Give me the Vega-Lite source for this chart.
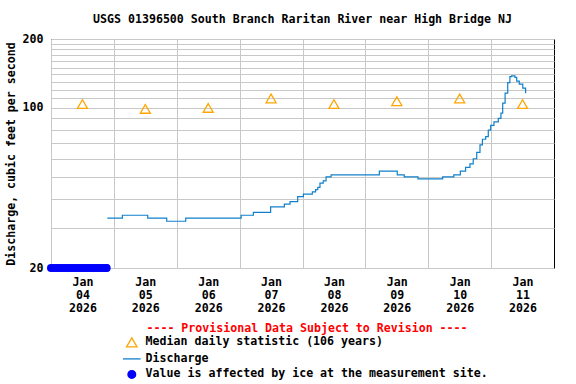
{
  "$schema": "https://vega.github.io/schema/vega-lite/v6.json",
  "width": 503,
  "height": 229,
  "padding": {"left": 5, "top": 14, "right": 5, "bottom": 2},
  "background": "white",
  "title": {
    "text": "USGS 01396500 South Branch Raritan River near High Bridge NJ",
    "font": "DejaVu Sans Mono",
    "fontSize": 11.6,
    "fontWeight": "bold",
    "color": "black",
    "anchor": "middle",
    "offset": 7
  },
  "config": {
    "view": {"stroke": "black", "strokeWidth": 1},
    "font": "DejaVu Sans Mono",
    "axis": {
      "labelFont": "DejaVu Sans Mono",
      "labelFontWeight": "bold",
      "labelFontSize": 11.6,
      "labelColor": "black",
      "titleFont": "DejaVu Sans Mono",
      "titleFontWeight": "bold",
      "titleFontSize": 11.6,
      "titleColor": "black",
      "gridColor": "#c8c8c8",
      "gridOpacity": 1,
      "gridWidth": 1,
      "domain": false,
      "ticks": false,
      "labelFlush": false,
      "labelOverlap": false
    }
  },
  "datasets": {
    "discharge": [
      {"t": "2026-01-04T21:30:00Z", "q": 33, "s": "Discharge"},
      {"t": "2026-01-05T03:15:00Z", "q": 34, "s": "Discharge"},
      {"t": "2026-01-05T12:55:00Z", "q": 33, "s": "Discharge"},
      {"t": "2026-01-05T20:10:00Z", "q": 32, "s": "Discharge"},
      {"t": "2026-01-06T03:25:00Z", "q": 33, "s": "Discharge"},
      {"t": "2026-01-07T00:35:00Z", "q": 34, "s": "Discharge"},
      {"t": "2026-01-07T05:15:00Z", "q": 35, "s": "Discharge"},
      {"t": "2026-01-07T11:50:00Z", "q": 37, "s": "Discharge"},
      {"t": "2026-01-07T17:05:00Z", "q": 38, "s": "Discharge"},
      {"t": "2026-01-07T19:15:00Z", "q": 39, "s": "Discharge"},
      {"t": "2026-01-07T22:10:00Z", "q": 41, "s": "Discharge"},
      {"t": "2026-01-08T00:20:00Z", "q": 42, "s": "Discharge"},
      {"t": "2026-01-08T03:45:00Z", "q": 43, "s": "Discharge"},
      {"t": "2026-01-08T05:00:00Z", "q": 44, "s": "Discharge"},
      {"t": "2026-01-08T05:50:00Z", "q": 45, "s": "Discharge"},
      {"t": "2026-01-08T06:40:00Z", "q": 47, "s": "Discharge"},
      {"t": "2026-01-08T07:55:00Z", "q": 48, "s": "Discharge"},
      {"t": "2026-01-08T09:00:00Z", "q": 50, "s": "Discharge"},
      {"t": "2026-01-08T10:55:00Z", "q": 51, "s": "Discharge"},
      {"t": "2026-01-09T05:20:00Z", "q": 53, "s": "Discharge"},
      {"t": "2026-01-09T12:10:00Z", "q": 51, "s": "Discharge"},
      {"t": "2026-01-09T14:50:00Z", "q": 50, "s": "Discharge"},
      {"t": "2026-01-09T20:05:00Z", "q": 49, "s": "Discharge"},
      {"t": "2026-01-10T05:30:00Z", "q": 50, "s": "Discharge"},
      {"t": "2026-01-10T09:45:00Z", "q": 51, "s": "Discharge"},
      {"t": "2026-01-10T12:15:00Z", "q": 53, "s": "Discharge"},
      {"t": "2026-01-10T14:15:00Z", "q": 55, "s": "Discharge"},
      {"t": "2026-01-10T15:55:00Z", "q": 57, "s": "Discharge"},
      {"t": "2026-01-10T17:10:00Z", "q": 60, "s": "Discharge"},
      {"t": "2026-01-10T18:30:00Z", "q": 64, "s": "Discharge"},
      {"t": "2026-01-10T19:45:00Z", "q": 69, "s": "Discharge"},
      {"t": "2026-01-10T20:40:00Z", "q": 73, "s": "Discharge"},
      {"t": "2026-01-10T21:55:00Z", "q": 75, "s": "Discharge"},
      {"t": "2026-01-10T22:55:00Z", "q": 80, "s": "Discharge"},
      {"t": "2026-01-10T23:50:00Z", "q": 84, "s": "Discharge"},
      {"t": "2026-01-11T01:05:00Z", "q": 87, "s": "Discharge"},
      {"t": "2026-01-11T02:45:00Z", "q": 90, "s": "Discharge"},
      {"t": "2026-01-11T03:45:00Z", "q": 95, "s": "Discharge"},
      {"t": "2026-01-11T04:25:00Z", "q": 105, "s": "Discharge"},
      {"t": "2026-01-11T05:20:00Z", "q": 116, "s": "Discharge"},
      {"t": "2026-01-11T06:20:00Z", "q": 129, "s": "Discharge"},
      {"t": "2026-01-11T07:10:00Z", "q": 137, "s": "Discharge"},
      {"t": "2026-01-11T07:50:00Z", "q": 138, "s": "Discharge"},
      {"t": "2026-01-11T09:05:00Z", "q": 136, "s": "Discharge"},
      {"t": "2026-01-11T09:45:00Z", "q": 131, "s": "Discharge"},
      {"t": "2026-01-11T10:45:00Z", "q": 127, "s": "Discharge"},
      {"t": "2026-01-11T12:05:00Z", "q": 122, "s": "Discharge"},
      {"t": "2026-01-11T13:10:00Z", "q": 116, "s": "Discharge"}
    ],
    "median": [
      {"t": "2026-01-04T12:00:00Z", "q": 104, "s": "Median daily statistic (106 years)"},
      {"t": "2026-01-05T12:00:00Z", "q": 99, "s": "Median daily statistic (106 years)"},
      {"t": "2026-01-06T12:00:00Z", "q": 100, "s": "Median daily statistic (106 years)"},
      {"t": "2026-01-07T12:00:00Z", "q": 110, "s": "Median daily statistic (106 years)"},
      {"t": "2026-01-08T12:00:00Z", "q": 104, "s": "Median daily statistic (106 years)"},
      {"t": "2026-01-09T12:00:00Z", "q": 107, "s": "Median daily statistic (106 years)"},
      {"t": "2026-01-10T12:00:00Z", "q": 110, "s": "Median daily statistic (106 years)"},
      {"t": "2026-01-11T12:00:00Z", "q": 104, "s": "Median daily statistic (106 years)"}
    ],
    "ice": [
      {"t": "2026-01-04T00:00:00Z", "q": 20, "s": "Value is affected by ice at the measurement site."},
      {"t": "2026-01-04T01:00:00Z", "q": 20, "s": "Value is affected by ice at the measurement site."},
      {"t": "2026-01-04T02:00:00Z", "q": 20, "s": "Value is affected by ice at the measurement site."},
      {"t": "2026-01-04T03:00:00Z", "q": 20, "s": "Value is affected by ice at the measurement site."},
      {"t": "2026-01-04T04:00:00Z", "q": 20, "s": "Value is affected by ice at the measurement site."},
      {"t": "2026-01-04T05:00:00Z", "q": 20, "s": "Value is affected by ice at the measurement site."},
      {"t": "2026-01-04T06:00:00Z", "q": 20, "s": "Value is affected by ice at the measurement site."},
      {"t": "2026-01-04T07:00:00Z", "q": 20, "s": "Value is affected by ice at the measurement site."},
      {"t": "2026-01-04T08:00:00Z", "q": 20, "s": "Value is affected by ice at the measurement site."},
      {"t": "2026-01-04T09:00:00Z", "q": 20, "s": "Value is affected by ice at the measurement site."},
      {"t": "2026-01-04T10:00:00Z", "q": 20, "s": "Value is affected by ice at the measurement site."},
      {"t": "2026-01-04T11:00:00Z", "q": 20, "s": "Value is affected by ice at the measurement site."},
      {"t": "2026-01-04T12:00:00Z", "q": 20, "s": "Value is affected by ice at the measurement site."},
      {"t": "2026-01-04T13:00:00Z", "q": 20, "s": "Value is affected by ice at the measurement site."},
      {"t": "2026-01-04T14:00:00Z", "q": 20, "s": "Value is affected by ice at the measurement site."},
      {"t": "2026-01-04T15:00:00Z", "q": 20, "s": "Value is affected by ice at the measurement site."},
      {"t": "2026-01-04T16:00:00Z", "q": 20, "s": "Value is affected by ice at the measurement site."},
      {"t": "2026-01-04T17:00:00Z", "q": 20, "s": "Value is affected by ice at the measurement site."},
      {"t": "2026-01-04T18:00:00Z", "q": 20, "s": "Value is affected by ice at the measurement site."},
      {"t": "2026-01-04T19:00:00Z", "q": 20, "s": "Value is affected by ice at the measurement site."},
      {"t": "2026-01-04T20:00:00Z", "q": 20, "s": "Value is affected by ice at the measurement site."},
      {"t": "2026-01-04T21:00:00Z", "q": 20, "s": "Value is affected by ice at the measurement site."},
      {"t": "2026-01-04T21:15:00Z", "q": 20, "s": "Value is affected by ice at the measurement site."}
    ]
  },
  "encoding": {
    "x": {
      "field": "t",
      "type": "temporal",
      "scale": {
        "type": "utc",
        "domain": [
          {"year": 2026, "month": 1, "date": 4, "utc": true},
          {"year": 2026, "month": 1, "date": 12, "utc": true}
        ],
        "nice": false
      },
      "axis": {
        "title": null,
        "grid": true,
        "values": [
          {"year": 2026, "month": 1, "date": 4, "utc": true},
          {"year": 2026, "month": 1, "date": 5, "utc": true},
          {"year": 2026, "month": 1, "date": 6, "utc": true},
          {"year": 2026, "month": 1, "date": 7, "utc": true},
          {"year": 2026, "month": 1, "date": 8, "utc": true},
          {"year": 2026, "month": 1, "date": 9, "utc": true},
          {"year": 2026, "month": 1, "date": 10, "utc": true},
          {"year": 2026, "month": 1, "date": 11, "utc": true}
        ],
        "labelExpr": "[utcFormat(datum.value, '%b'), utcFormat(datum.value, '%d'), utcFormat(datum.value, '%Y')]",
        "labelOffset": 31.44,
        "labelPadding": 8,
        "labelLineHeight": 13,
        "labelAlign": "center",
        "labelBaseline": "top"
      }
    },
    "y": {
      "field": "q",
      "type": "quantitative",
      "scale": {"type": "log", "domain": [20, 200], "nice": false},
      "axis": {
        "title": "Discharge, cubic feet per second",
        "grid": true,
        "values": [20, 30, 40, 50, 60, 70, 80, 90, 100, 110, 120, 130, 140, 150, 160, 170, 180, 190, 200],
        "labelExpr": "datum.value == 20 || datum.value == 100 || datum.value == 200 ? format(datum.value, 'd') : ''",
        "labelPadding": 8,
        "titlePadding": 6
      }
    },
    "color": {
      "field": "s",
      "type": "nominal",
      "scale": {
        "domain": ["Median daily statistic (106 years)", "Discharge", "Value is affected by ice at the measurement site."],
        "range": ["#ffa500", "#1080cc", "#0000ff"]
      },
      "legend": {
        "orient": "none",
        "legendX": 75,
        "legendY": 284,
        "direction": "vertical",
        "title": "---- Provisional Data Subject to Revision ----",
        "titleColor": "#ff0000",
        "titleFont": "DejaVu Sans Mono",
        "titleFontSize": 11.6,
        "titleFontWeight": "bold",
        "titleAnchor": "middle",
        "titleLimit": 800,
        "titlePadding": 2,
        "labelFont": "DejaVu Sans Mono",
        "labelFontSize": 11.6,
        "labelFontWeight": "bold",
        "labelColor": "black",
        "labelLimit": 600,
        "labelOffset": 8,
        "symbolSize": 144,
        "rowPadding": 2.5,
        "padding": 0,
        "encode": {
          "symbols": {
            "update": {
              "shape": {"signal": "datum.value == 'Discharge' ? 'stroke' : datum.value == 'Median daily statistic (106 years)' ? 'triangle-up' : 'circle'"},
              "size": {"signal": "datum.value == 'Discharge' ? 310 : datum.value == 'Median daily statistic (106 years)' ? 110 : 60"},
              "fill": {"signal": "datum.value == 'Value is affected by ice at the measurement site.' ? '#0000ff' : 'transparent'"},
              "fillOpacity": {"signal": "datum.value == 'Value is affected by ice at the measurement site.' ? 1 : 0"},
              "stroke": {"signal": "datum.value == 'Discharge' ? '#1080cc' : datum.value == 'Median daily statistic (106 years)' ? '#ffa500' : '#0000ff'"},
              "strokeWidth": {"value": 1.3},
              "opacity": {"value": 1}
            }
          }
        }
      }
    }
  },
  "layer": [
    {
      "data": {"name": "discharge"},
      "mark": {"type": "line", "interpolate": "step-after", "strokeWidth": 1.2}
    },
    {
      "data": {"name": "median"},
      "mark": {"type": "point", "shape": "triangle-up", "filled": false, "size": 100, "strokeWidth": 1.3, "opacity": 1}
    },
    {
      "data": {"name": "ice"},
      "mark": {"type": "point", "shape": "circle", "filled": true, "size": 64, "opacity": 1}
    }
  ]
}
